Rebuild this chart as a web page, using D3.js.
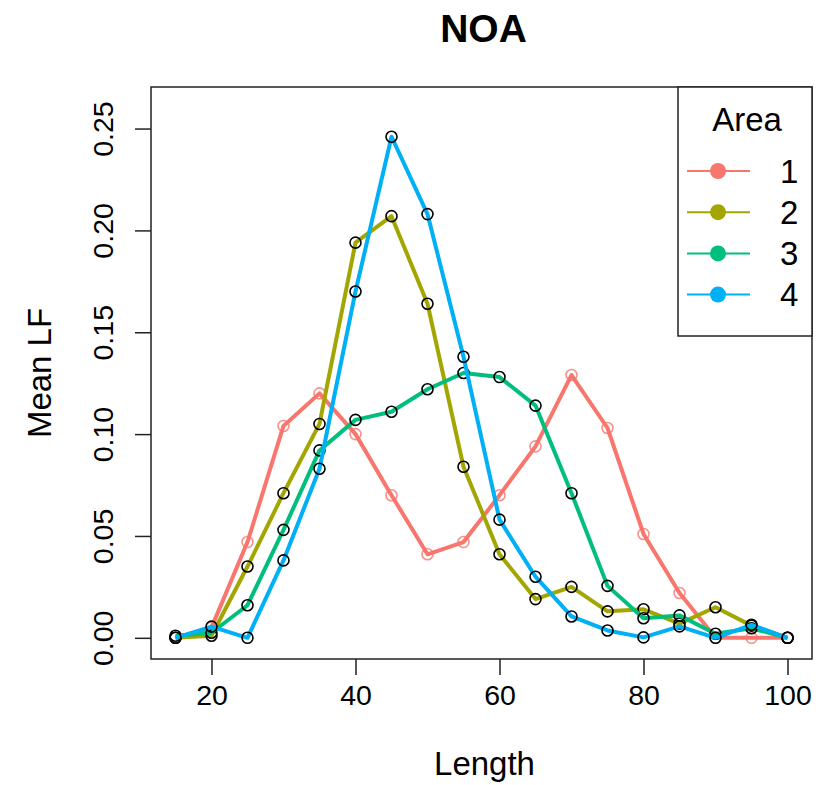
<!DOCTYPE html>
<html>
<head>
<meta charset="utf-8">
<script src="https://cdn.jsdelivr.net/npm/d3@7"></script>
<style>
  body { margin: 0; background: #fff; }
  text { font-family: "Liberation Sans", Arial, sans-serif; fill: #000; }
</style>
</head>
<body>
<div id="chart"></div>
<script>
// length classes
const lengths = [15, 20, 25, 30, 35, 40, 45, 50, 55, 60, 65, 70, 75, 80, 85, 90, 95, 100]

// mean LF per area
const area1 = [0, 0.005, 0.047, 0.104, 0.120, 0.100, 0.070, 0.041, 0.047, 0.070, 0.094, 0.129, 0.103, 0.051, 0.022, 0, 0, 0]
const area2 = [0, 0.001, 0.035, 0.071, 0.105, 0.194, 0.207, 0.164, 0.084, 0.041, 0.019, 0.025, 0.013, 0.014, 0.007, 0.015, 0.006, 0]
const area3 = [0.001, 0.0025, 0.016, 0.053, 0.092, 0.107, 0.111, 0.122, 0.130, 0.128, 0.114, 0.071, 0.0255, 0.0096, 0.011, 0.002, 0.0047, 0]
const area4 = [0, 0.0055, 0, 0.038, 0.083, 0.170, 0.246, 0.208, 0.138, 0.058, 0.030, 0.0105, 0.0036, 0.0002, 0.0056, 0, 0.0064, 0]

const areas = ['1', '2', '3', '4']
const colors = ['#F8766D', '#A3A500', '#00BF7D', '#00B0F6']
const xTicks = [20, 40, 60, 80, 100]
const yTicks = [0, 0.05, 0.10, 0.15, 0.20, 0.25]

const series = [area1, area2, area3, area4]

const W = 823, H = 785
const plot = { left: 151, right: 812, top: 87, bottom: 659 }

const svg = d3.select('#chart')
    .append('svg')
    .attr('width', W)
    .attr('height', H)

// R style: 4% padding on each side
const x = d3.scaleLinear()
    .domain([15 - 85 * 0.04, 100 + 85 * 0.04])
    .range([plot.left, plot.right])

const y = d3.scaleLinear()
    .domain([0 - 0.26 * 0.04, 0.26 + 0.26 * 0.04])
    .range([plot.bottom, plot.top])

// lines + points, one area at a time
const line = d3.line()
    .x((d, i) => x(lengths[i]))
    .y(d => y(d))

series.forEach((vals, k) => {
    svg.append('path')
        .datum(vals)
        .attr('d', line)
        .attr('fill', 'none')
        .attr('stroke', colors[k])
        .attr('stroke-width', 4)
        .attr('stroke-linejoin', 'round')

    svg.append('g')
        .selectAll('circle')
        .data(vals)
        .enter().append('circle')
        .attr('cx', (d, i) => x(lengths[i]))
        .attr('cy', d => y(d))
        .attr('r', 5.5)
        .attr('fill', 'none')
        .attr('stroke', k === 0 ? colors[0] : '#000')
        .attr('stroke-opacity', k === 0 ? 0.8 : 1)
        .attr('stroke-width', 1.6)
})

// box
svg.append('rect')
    .attr('x', plot.left)
    .attr('y', plot.top)
    .attr('width', plot.right - plot.left)
    .attr('height', plot.bottom - plot.top)
    .attr('fill', 'none')
    .attr('stroke', '#222')
    .attr('stroke-width', 1.5)

// x axis
const xAxis = svg.append('g')
    .attr('transform', 'translate(0,' + plot.bottom + ')')
    .call(d3.axisBottom(x).tickValues(xTicks).tickSize(16).tickPadding(10).tickFormat(d3.format('d')))
xAxis.select('.domain').remove()
xAxis.selectAll('line').attr('stroke', '#222').attr('stroke-width', 1.5)
xAxis.selectAll('text').style('font-size', '28.5px').attr('dy', '0.71em')

// y axis, labels rotated like R's default las=0
const yAxis = svg.append('g')
    .attr('transform', 'translate(' + plot.left + ',0)')
    .call(d3.axisLeft(y).tickValues(yTicks).tickSize(16).tickFormat(d3.format('.2f')))
yAxis.select('.domain').remove()
yAxis.selectAll('line').attr('stroke', '#222').attr('stroke-width', 1.5)
yAxis.selectAll('text')
    .style('font-size', '28.5px')
    .attr('x', null)
    .attr('dy', null)
    .attr('text-anchor', 'middle')
    .attr('transform', 'translate(-38,0) rotate(-90)')

// titles
svg.append('text')
    .attr('x', (plot.left + plot.right) / 2 + 2)
    .attr('y', 42)
    .attr('text-anchor', 'middle')
    .style('font-size', '39px')
    .style('font-weight', 'bold')
    .text('NOA')

svg.append('text')
    .attr('x', (plot.left + plot.right) / 2 + 3)
    .attr('y', 775)
    .attr('text-anchor', 'middle')
    .style('font-size', '33px')
    .text('Length')

svg.append('text')
    .attr('transform', 'translate(51,' + ((plot.top + plot.bottom) / 2) + ') rotate(-90)')
    .attr('text-anchor', 'middle')
    .style('font-size', '33px')
    .text('Mean LF')

// legend
const lg = svg.append('g')
lg.append('rect')
    .attr('x', 678)
    .attr('y', plot.top)
    .attr('width', plot.right - 678)
    .attr('height', 336 - plot.top)
    .attr('fill', '#fff')
    .attr('stroke', '#222')
    .attr('stroke-width', 1.5)

lg.append('text')
    .attr('x', 747)
    .attr('y', 131)
    .attr('text-anchor', 'middle')
    .style('font-size', '33px')
    .text('Area')

const items = lg.selectAll('g.item')
    .data(areas)
    .enter().append('g')
    .attr('class', 'item')
    .attr('transform', (d, i) => 'translate(0,' + (171 + i * 41.2) + ')')

items.append('line')
    .attr('x1', 687).attr('x2', 750)
    .attr('stroke', (d, i) => colors[i])
    .attr('stroke-width', 2)

items.append('circle')
    .attr('cx', 718)
    .attr('r', 8)
    .attr('fill', (d, i) => colors[i])

items.append('text')
    .attr('x', 780)
    .attr('dy', '0.36em')
    .style('font-size', '33px')
    .text(d => d)
</script>
</body>
</html>
